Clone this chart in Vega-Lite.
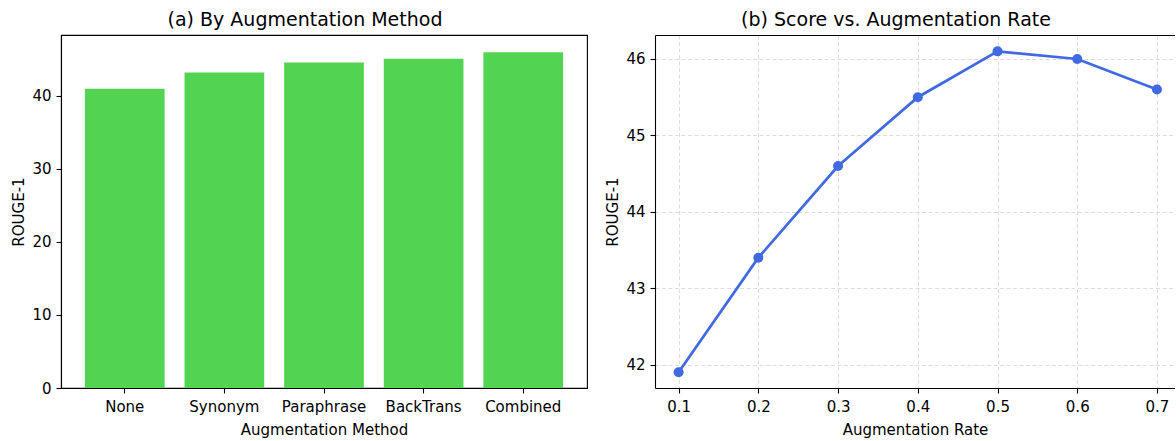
{
  "$schema": "https://vega.github.io/schema/vega-lite/v6.json",
  "background": "white",
  "padding": {"left": 11, "top": 10, "right": 0, "bottom": 0},
  "bounds": "flush",
  "spacing": 68,
  "config": {
    "font": "DejaVu Sans",
    "view": {"stroke": null},
    "axis": {
      "labelFont": "DejaVu Sans", "labelFontSize": 15, "labelColor": "#000",
      "titleFont": "DejaVu Sans", "titleFontSize": 15, "titleFontWeight": "normal", "titleColor": "#000",
      "domainColor": "#000", "tickColor": "#000", "tickSize": 5, "domainWidth": 1.1, "tickWidth": 1.1,
      "labelPadding": 5, "grid": false
    },
    "axisY": {"titlePadding": 5},
    "axisX": {"titlePadding": 8, "labelPadding": 6},
    "title": {"font": "DejaVu Sans", "fontSize": 19, "fontWeight": "normal", "color": "#000", "anchor": "middle", "dx": -19, "offset": 5}
  },
  "hconcat": [
    {
      "width": 526,
      "height": 353,
      "title": "(a) By Augmentation Method",
      "view": {"stroke": "#000", "strokeWidth": 1.1},
      "data": {"values": [
        {"method": "None", "rouge1": 41.0},
        {"method": "Synonym", "rouge1": 43.2},
        {"method": "Paraphrase", "rouge1": 44.6},
        {"method": "BackTrans", "rouge1": 45.1},
        {"method": "Combined", "rouge1": 46.0}
      ]},
      "mark": {"type": "bar", "color": "#52D452"},
      "encoding": {
        "x": {"field": "method", "type": "nominal", "sort": null,
              "scale": {"paddingInner": 0.2, "paddingOuter": 0.24},
              "axis": {"title": "Augmentation Method", "labelAngle": 0}},
        "y": {"field": "rouge1", "type": "quantitative",
              "scale": {"domain": [0, 48.35], "nice": false},
              "axis": {"title": "ROUGE-1", "values": [0, 10, 20, 30, 40]}}
      }
    },
    {
      "width": 520,
      "height": 353,
      "title": "(b) Score vs. Augmentation Rate",
      "data": {"values": [
        {"rate": 0.1, "rouge1": 41.9},
        {"rate": 0.2, "rouge1": 43.4},
        {"rate": 0.3, "rouge1": 44.6},
        {"rate": 0.4, "rouge1": 45.5},
        {"rate": 0.5, "rouge1": 46.1},
        {"rate": 0.6, "rouge1": 46.0},
        {"rate": 0.7, "rouge1": 45.6}
      ]},
      "layer": [
        {
          "mark": {"type": "line", "color": "#4169E1", "strokeWidth": 2.7},
          "encoding": {
            "x": {"field": "rate", "type": "quantitative",
                  "scale": {"domain": [0.0704, 0.7226], "nice": false, "zero": false},
                  "axis": {"title": "Augmentation Rate", "values": [0.1, 0.2, 0.3, 0.4, 0.5, 0.6, 0.7], "format": ".1f",
                           "grid": true, "gridDash": [4, 2.5], "gridColor": "#dddddd", "gridWidth": 1}},
            "y": {"field": "rouge1", "type": "quantitative",
                  "scale": {"domain": [41.695, 46.314], "nice": false, "zero": false},
                  "axis": {"title": "ROUGE-1", "values": [42, 43, 44, 45, 46], "format": "d",
                           "grid": true, "gridDash": [4, 2.5], "gridColor": "#dddddd", "gridWidth": 1}}
          }
        },
        {
          "mark": {"type": "point", "filled": true, "color": "#4169E1", "size": 100, "opacity": 1},
          "encoding": {
            "x": {"field": "rate", "type": "quantitative",
                  "axis": {"orient": "top", "labels": false, "ticks": false, "title": null, "grid": false, "domain": true}},
            "y": {"field": "rouge1", "type": "quantitative"}
          }
        }
      ],
      "resolve": {"axis": {"x": "independent"}}
    }
  ]
}
